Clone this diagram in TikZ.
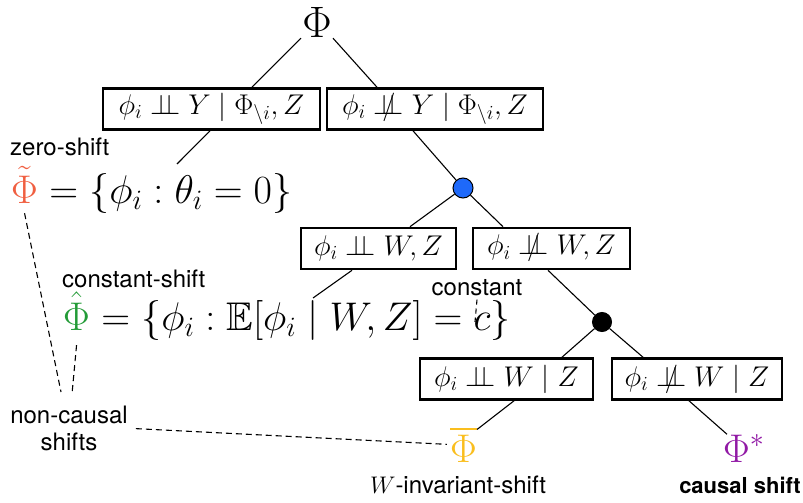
\RequirePackage{fix-cm}
\documentclass[tikz,border=0pt]{standalone}
\usepackage{amsmath,amssymb}
\usepackage{fontspec}
\setsansfont{TeX Gyre Heros}
\usetikzlibrary{calc}
\definecolor{zeroC}{RGB}{240,95,65}
\definecolor{constC}{RGB}{35,155,55}
\definecolor{wC}{RGB}{250,190,30}
\definecolor{cC}{RGB}{145,25,165}
\definecolor{blueC}{RGB}{30,105,250}
\newcommand{\indep}{\mathrel{\perp\!\!\!\perp}}
\newcommand{\nindep}{\mathrel{\ooalign{$\perp\!\!\!\perp$\cr\hidewidth$/$\hidewidth\cr}}}
\begin{document}
\begin{tikzpicture}[x=1pt,y=-1pt,
  box/.style={draw, line width=2.6pt, minimum height=41pt, inner sep=0pt, font=\fontsize{28.5}{32}\selectfont},
  conn/.style={line width=1.1pt},
  dsh/.style={line width=1.1pt, dash pattern=on 6pt off 4pt},
  lab/.style={font=\fontsize{24}{27}\sffamily, inner sep=0pt},
  big/.style={font=\fontsize{40}{46}\selectfont, inner sep=0pt},
  dot/.style={circle, draw, line width=1pt, inner sep=0pt}]
\useasboundingbox (0,0) rectangle (803,503);

\node[big, anchor=base, font=\fontsize{44}{50}\selectfont] (top) at (317,38) {$\Phi$};
\node[box, minimum width=217pt] (b1) at (211.5,109) {$\phi_i \indep Y \mid \Phi_{\setminus i}, Z$};
\node[box, minimum width=216pt] (b2) at (435,109) {$\phi_i \nindep Y \mid \Phi_{\setminus i}, Z$};
\node[box, minimum width=155pt] (b3) at (378.5,248.5) {$\phi_i \indep W, Z$};
\node[box, minimum width=157pt] (b4) at (551.5,248.5) {$\phi_i \nindep W, Z$};
\node[box, minimum width=173pt] (b5) at (506.5,379) {$\phi_i \indep W \mid Z$};
\node[box, minimum width=170pt] (b6) at (697,379) {$\phi_i \nindep W \mid Z$};
\node[dot, fill=blueC, minimum size=20pt] (blue) at (463,188) {};
\node[dot, fill=black, minimum size=19pt] (blk) at (602,322) {};

\node[big, anchor=base west] (pt) at (11,203) {$\color{zeroC}\tilde\Phi$};
\node[big, anchor=base west] (ft) at (pt.base east) {${}=\{\phi_i : \theta_i = 0\}$};
\node[big, anchor=base west] (ph) at (63,330) {$\color{constC}\hat\Phi$};
\node[big, anchor=base west] (fh) at (ph.base east) {${}=\{\phi_i : \mathbb{E}[\phi_i \mid W, Z] = c\}$};
\node[big, anchor=base] (pb) at (463.5,462) {$\color{wC}\overline{\Phi}$};
\node[big, anchor=base west] (ps) at (723,462) {$\color{cC}\Phi^*$};

\node[lab, anchor=base west] (lz) at (10,155) {zero-shift};
\node[lab, anchor=base west] (lc) at (62,287) {constant-shift};
\node[lab, anchor=base] (lk) at (477,295) {constant};
\node[lab, align=center, anchor=north] (nc) at (69,406) {non-causal\\shifts};
\node[lab, anchor=base] (lw) at (458,493) {$W$-invariant-shift};
\node[lab, anchor=base, font=\fontsize{22}{26}\sffamily\bfseries] (lcs) at (740,493) {causal shift};

\coordinate (zc) at (177,164);
\coordinate (zc2) at (313,298);
\coordinate (cc) at (475,322);

\draw[conn] ([xshift=-16pt]top.south) -- ([xshift=40.5pt]b1.north);
\draw[conn] ([xshift=16pt]top.south) -- ([xshift=-58pt]b2.north);
\draw[conn] ([xshift=-1.5pt]b1.south) -- (zc);
\draw[conn] ([xshift=-22pt]b2.south) -- (blue);
\draw[conn] (blue) -- ([xshift=31.5pt]b3.north);
\draw[conn] (blue) -- ([xshift=-48.5pt]b4.north);
\draw[conn] ([xshift=-26.5pt]b3.south) -- (zc2);
\draw[conn] ([xshift=-3.5pt]b4.south) -- (blk);
\draw[conn] (blk) -- ([xshift=55.5pt]b5.north);
\draw[conn] (blk) -- ([xshift=-54pt]b6.north);
\draw[conn] ([xshift=7.5pt]b5.south) -- ([yshift=-3pt]pb.north east);
\draw[conn] ([xshift=-8pt]b6.south) -- ([xshift=4pt]ps.north west);

\draw[dsh] ([yshift=-10pt]pt.south) -- ([xshift=-8pt,yshift=14pt]nc.north);
\draw[dsh] ([yshift=-15pt]ph.south) -- ([xshift=3pt,yshift=12pt]nc.north);
\draw[dsh] ([xshift=8pt]nc.east) -- ([xshift=-3pt]pb.west);
\draw[dsh, dash pattern=on 5pt off 4pt] ([yshift=-4pt]lk.south) -- (cc);
\end{tikzpicture}
\end{document}
